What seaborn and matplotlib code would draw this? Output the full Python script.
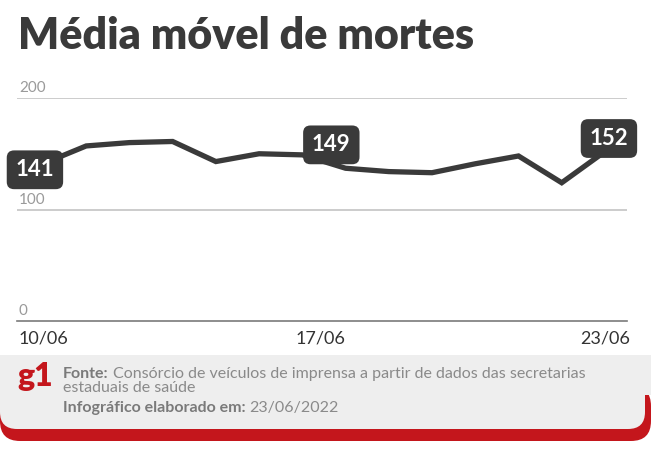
import numpy as np
import pandas as pd
import matplotlib.pyplot as plt
import matplotlib.transforms as mtransforms
from matplotlib.patches import FancyBboxPatch, Rectangle
import seaborn as sns

dates = ["10/06", "11/06", "12/06", "13/06", "14/06", "15/06", "16/06",
         "17/06", "18/06", "19/06", "20/06", "21/06", "22/06", "23/06"]
deaths_avg = [141, 157, 160, 161, 143, 150, 149, 137, 134, 133, 141, 148, 124, 152]
tick_dates = ["10/06", "17/06", "23/06"]
y_ticks = [0, 100, 200]
labelled = {0: (-8, -6), 6: (29, 10), 13: (4, 13)}

df = pd.DataFrame({"pos": np.arange(len(dates)), "date": dates, "value": deaths_avg})

sns.set_theme(style="white")
plt.rcParams["font.family"] = ["Lato", "DejaVu Sans"]

fig = plt.figure(figsize=(6.51, 4.5), dpi=100)
W, H = 651, 450
ax = fig.add_axes([17 / W, (H - 321) / H, 610 / W, 223 / H])

sns.lineplot(data=df, x="pos", y="value", color="#3a3a3a", linewidth=3.8, ax=ax,
             solid_joinstyle="miter")

ax.set_xlim(-0.6, 13.51)
ax.set_ylim(0, 200)
ax.set_xlabel("")
ax.set_ylabel("")
for s in ["top", "left", "right"]:
    ax.spines[s].set_visible(False)
ax.spines["bottom"].set_color("#7a7a7a")
ax.spines["bottom"].set_linewidth(1.2)
for v in y_ticks[1:]:
    ax.axhline(v, color="#c4c4c4", linewidth=1.2, zorder=0)
ax.set_yticks([])

pos = [dates.index(d) for d in tick_dates]
ax.set_xticks(pos)
ax.set_xticklabels(tick_dates, fontsize=13, color="#333333")
ax.tick_params(axis="x", length=0, pad=7)
for lab, ha in zip(ax.get_xticklabels(), ["center", "right", "center"]):
    lab.set_ha(ha)

for v in y_ticks:
    ax.annotate(str(v), xy=(0.003, v), xycoords=("axes fraction", "data"),
                xytext=(0, 3), textcoords="offset pixels", ha="left", va="bottom",
                fontsize=11, color="#9a9a9a")

for i, (dx, dy) in labelled.items():
    ax.annotate(str(deaths_avg[i]), xy=(i, deaths_avg[i]), xytext=(dx, dy),
                textcoords="offset pixels", ha="center", va="center",
                fontsize=16, fontweight="bold", color="white", zorder=5,
                bbox=dict(boxstyle="round,pad=0.4,rounding_size=0.33",
                          fc="#3a3a3a", ec="none"))

# title
fig.text(18 / W, (H - 49) / H, "Média móvel de mortes", fontsize=31,
         fontweight="heavy", color="#3a3a3a", va="baseline", ha="left")

# footer
px = mtransforms.Affine2D().scale(1 / 100) + fig.dpi_scale_trans
fig.patches.append(FancyBboxPatch((0, H - 441), 651, 55,
                                  boxstyle="round,pad=0,rounding_size=20",
                                  fc="#c4161c", ec="none", transform=px, figure=fig))
fig.patches.append(FancyBboxPatch((0, H - 429), 645, 74,
                                  boxstyle="round,pad=0,rounding_size=17",
                                  fc="#eeeeee", ec="none", transform=px, figure=fig))
fig.patches.append(Rectangle((0, H - 395), 651, 40, fc="#eeeeee", ec="none",
                             transform=px, figure=fig))

fig.text(17 / W, (H - 386) / H, "g1", fontsize=23, fontweight="heavy",
         color="#c4161c", va="baseline", ha="left")

renderer = fig.canvas.get_renderer()
fs = 11.5


def two_part(x, y, bold, normal):
    t = fig.text(x / W, (H - y) / H, bold, fontsize=fs, fontweight="bold",
                 color="#7a7a7a", va="baseline")
    bb = t.get_window_extent(renderer)
    if normal:
        fig.text((bb.x1 + 4) / W, (H - y) / H, normal, fontsize=fs,
                 color="#8a8a8a", va="baseline")


two_part(63, 378, "Fonte:",
         "Consórcio de veículos de imprensa a partir de dados das secretarias")
fig.text(63 / W, (H - 392) / H, "estaduais de saúde", fontsize=fs,
         color="#8a8a8a", va="baseline")
two_part(63, 412, "Infográfico elaborado em:", "23/06/2022")

fig.savefig("out.png", dpi=100)
